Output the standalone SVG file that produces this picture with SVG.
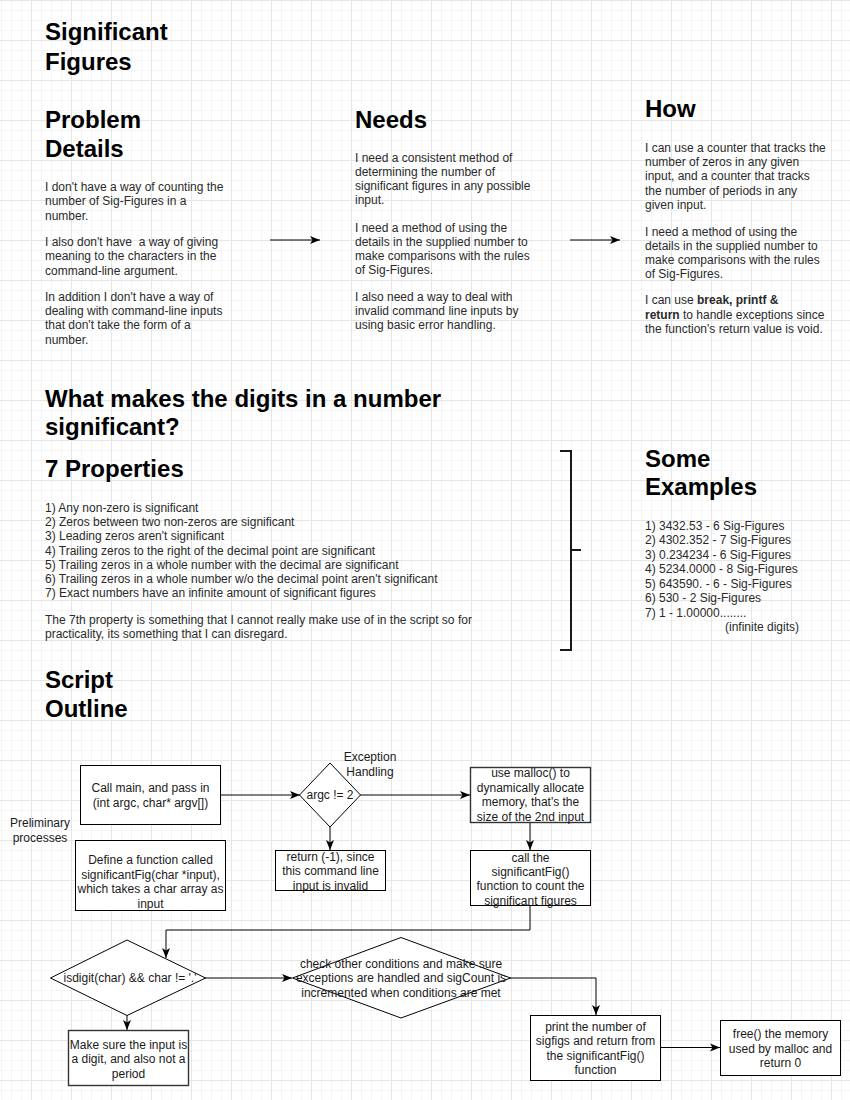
<svg xmlns="http://www.w3.org/2000/svg" width="850" height="1100" viewBox="0 0 850 1100">
<defs>
<pattern id="minor" patternUnits="userSpaceOnUse" x="1" y="0" width="10" height="10">
<path d="M0.5,0 V10 M0,0.5 H10" stroke="#f5f5f5" stroke-width="1" fill="none"/>
</pattern>
<pattern id="major" patternUnits="userSpaceOnUse" x="31" y="0" width="40" height="40">
<path d="M0.5,0 V40 M0,0.5 H40" stroke="#e6e6e6" stroke-width="1" fill="none"/>
</pattern>
<marker id="arr" markerUnits="userSpaceOnUse" markerWidth="12" markerHeight="12" refX="10" refY="5" orient="auto">
<path d="M0,1 L10,5 L0,9 L2.5,5 Z" fill="#000"/>
</marker>
<style>
.h{font-family:"Liberation Sans",Arial,sans-serif;font-size:24px;font-weight:bold;fill:#000}
.b{font-family:"Liberation Sans",Arial,sans-serif;font-size:12px;fill:#2a2a2a}
.t{font-family:"Liberation Sans",Arial,sans-serif;font-size:12px;fill:#1a1a1a;text-anchor:middle}
.box{fill:#fff;stroke:#000;stroke-width:1}
.box2{fill:#fff;stroke:#333;stroke-width:1.4}
.c{fill:none;stroke:#000;stroke-width:1}
</style>
</defs>
<rect width="850" height="1100" fill="#fff"/>
<rect width="850" height="1100" fill="url(#minor)"/>
<rect width="850" height="1100" fill="url(#major)"/>

<g id="headings">
<text class="h" x="45" y="40">Significant</text>
<text class="h" x="45" y="70">Figures</text>
<text class="h" x="45" y="128">Problem</text>
<text class="h" x="45" y="157">Details</text>
<text class="h" x="355" y="128">Needs</text>
<text class="h" x="645" y="117">How</text>
<text class="h" x="45" y="407">What makes the digits in a number</text>
<text class="h" x="45" y="435">significant?</text>
<text class="h" x="45" y="477">7 Properties</text>
<text class="h" x="645" y="467">Some</text>
<text class="h" x="645" y="495">Examples</text>
<text class="h" x="45" y="688">Script</text>
<text class="h" x="45" y="717">Outline</text>
</g>

<g id="problem-text">
<text class="b" x="45" y="191">I don't have a way of counting the<tspan x="45" dy="14.4">number of Sig-Figures in a</tspan><tspan x="45" dy="14.4">number.</tspan></text>
<text class="b" x="45" y="246" xml:space="preserve">I also don't have  a way of giving<tspan x="45" dy="14.4">meaning to the characters in the</tspan><tspan x="45" dy="14.4">command-line argument.</tspan></text>
<text class="b" x="45" y="300.5">In addition I don't have a way of<tspan x="45" dy="14.4">dealing with command-line inputs</tspan><tspan x="45" dy="14.4">that don't take the form of a</tspan><tspan x="45" dy="14.4">number.</tspan></text>
</g>

<g id="needs-text">
<text class="b" x="355" y="161.7">I need a consistent method of<tspan x="355" dy="14.2">determining the number of</tspan><tspan x="355" dy="14.2">significant figures in any possible</tspan><tspan x="355" dy="14.2">input.</tspan></text>
<text class="b" x="355" y="231.7">I need a method of using the<tspan x="355" dy="14.2">details in the supplied number to</tspan><tspan x="355" dy="14.2">make comparisons with the rules</tspan><tspan x="355" dy="14.2">of Sig-Figures.</tspan></text>
<text class="b" x="355" y="300.7">I also need a way to deal with<tspan x="355" dy="14.3">invalid command line inputs by</tspan><tspan x="355" dy="14.3">using basic error handling.</tspan></text>
</g>

<g id="how-text">
<text class="b" x="645" y="151.7">I can use a counter that tracks the<tspan x="645" dy="14.3">number of zeros in any given</tspan><tspan x="645" dy="14.3">input, and a counter that tracks</tspan><tspan x="645" dy="14.3">the number of periods in any</tspan><tspan x="645" dy="14.3">given input.</tspan></text>
<text class="b" x="645" y="235.7">I need a method of using the<tspan x="645" dy="14.2">details in the supplied number to</tspan><tspan x="645" dy="14.2">make comparisons with the rules</tspan><tspan x="645" dy="14.2">of Sig-Figures.</tspan></text>
<text class="b" x="645" y="304.3">I can use <tspan font-weight="bold">break, printf &amp;</tspan><tspan x="645" dy="14.5" font-weight="bold">return</tspan> to handle exceptions since<tspan x="645" dy="14.5">the function's return value is void.</tspan></text>
</g>

<g id="properties-text">
<text class="b" x="45" y="511.7">1) Any non-zero is significant<tspan x="45" dy="14.27">2) Zeros between two non-zeros are significant</tspan><tspan x="45" dy="14.27">3) Leading zeros aren't significant</tspan><tspan x="45" dy="14.27">4) Trailing zeros to the right of the decimal point are significant</tspan><tspan x="45" dy="14.27">5) Trailing zeros in a whole number with the decimal are significant</tspan><tspan x="45" dy="14.27">6) Trailing zeros in a whole number w/o the decimal point aren't significant</tspan><tspan x="45" dy="14.27">7) Exact numbers have an infinite amount of significant figures</tspan></text>
<text class="b" x="45" y="624">The 7th property is something that I cannot really make use of in the script so for<tspan x="45" dy="14.3">practicality, its something that I can disregard.</tspan></text>
</g>

<g id="examples-text">
<text class="b" x="645" y="530">1) 3432.53 - 6 Sig-Figures<tspan x="645" dy="14.45">2) 4302.352 - 7 Sig-Figures</tspan><tspan x="645" dy="14.45">3) 0.234234 - 6 Sig-Figures</tspan><tspan x="645" dy="14.45">4) 5234.0000 - 8 Sig-Figures</tspan><tspan x="645" dy="14.45">5) 643590. - 6 - Sig-Figures</tspan><tspan x="645" dy="14.45">6) 530 - 2 Sig-Figures</tspan><tspan x="645" dy="14.45">7) 1 - 1.00000........</tspan></text>
<text class="b" x="725" y="630.7">(infinite digits)</text>
</g>

<g id="bracket">
<path d="M560,451 H571 V650 H560 M571,550 H581" fill="none" stroke="#1a1a1a" stroke-width="2"/>
</g>

<g id="connectors">
<path class="c" d="M270,240 H320" marker-end="url(#arr)"/>
<path class="c" d="M570,240 H620" marker-end="url(#arr)"/>
<path class="c" d="M220,795 H300" marker-end="url(#arr)"/>
<path class="c" d="M330,825 V850" marker-end="url(#arr)"/>
<path class="c" d="M360,795 H470" marker-end="url(#arr)"/>
<path class="c" d="M530,823 V850" marker-end="url(#arr)"/>
<path class="c" d="M530,905 V930 H166 V958" marker-end="url(#arr)"/>
<path class="c" d="M127,1015 V1030" marker-end="url(#arr)"/>
<path class="c" d="M205,978 H292" marker-end="url(#arr)"/>
<path class="c" d="M510,978 H596 V1015" marker-end="url(#arr)"/>
<path class="c" d="M660,1047.5 H720" marker-end="url(#arr)"/>
</g>

<g id="preliminary-label">
<text class="t" x="40" y="827">Preliminary<tspan x="40" dy="15">processes</tspan></text>
</g>

<g id="node-call-main">
<rect class="box" x="80.5" y="765.5" width="140" height="59"/>
<text class="t" x="150.5" y="792">Call main, and pass in<tspan x="150.5" dy="15">(int argc, char* argv[])</tspan></text>
</g>

<g id="node-define">
<rect class="box" x="75.5" y="840.5" width="150" height="70"/>
<text class="t" x="150.5" y="864">Define a function called<tspan x="150.5" dy="14.5">significantFig(char *input),</tspan><tspan x="150.5" dy="14.5">which takes a char array as</tspan><tspan x="150.5" dy="14.5">input</tspan></text>
</g>

<g id="node-exception-label">
<text class="t" x="370" y="761">Exception<tspan x="370" dy="15">Handling</tspan></text>
</g>

<g id="node-argc">
<path class="box" d="M330,763 L360.5,795 L330,827 L299.5,795 Z"/>
<text class="t" x="330" y="799">argc != 2</text>
</g>

<g id="node-return">
<rect class="box" x="275.5" y="850.5" width="110" height="40"/>
<text class="t" x="330.5" y="860.5">return (-1), since<tspan x="330.5" dy="14.5">this command line</tspan><tspan x="330.5" dy="14.5">input is invalid</tspan></text>
</g>

<g id="node-malloc">
<rect class="box2" x="470.5" y="767.5" width="120" height="55"/>
<text class="t" x="530.5" y="777">use malloc() to<tspan x="530.5" dy="14.5">dynamically allocate</tspan><tspan x="530.5" dy="14.5">memory, that's the</tspan><tspan x="530.5" dy="14.5">size of the 2nd input</tspan></text>
</g>

<g id="node-call-sigfig">
<rect class="box" x="470.5" y="850.5" width="120" height="55"/>
<text class="t" x="530.5" y="861.5">call the<tspan x="530.5" dy="14.4">significantFig()</tspan><tspan x="530.5" dy="14.4">function to count the</tspan><tspan x="530.5" dy="14.4">significant figures</tspan></text>
</g>

<g id="node-isdigit">
<path class="box" d="M127,940 L205.5,978 L127,1015.5 L50.5,978 Z"/>
<text class="t" x="130" y="982">isdigit(char) &amp;&amp; char != '.'</text>
</g>

<g id="node-make-sure">
<rect class="box2" x="68.5" y="1030.5" width="120" height="55"/>
<text class="t" x="128.5" y="1049">Make sure the input is<tspan x="128.5" dy="14.4">a digit, and also not a</tspan><tspan x="128.5" dy="14.4">period</tspan></text>
</g>

<g id="node-check">
<path class="box" d="M401,937.5 L510.5,978 L401,1018 L292.5,978 Z"/>
<text class="t" x="401" y="967.5">check other conditions and make sure<tspan x="401" dy="14.5">exceptions are handled and sigCount is</tspan><tspan x="401" dy="14.5">incremented when conditions are met</tspan></text>
</g>

<g id="node-print">
<rect class="box" x="530.5" y="1015.5" width="130" height="65"/>
<text class="t" x="595.5" y="1030.5">print the number of<tspan x="595.5" dy="14.5">sigfigs and return from</tspan><tspan x="595.5" dy="14.5">the significantFig()</tspan><tspan x="595.5" dy="14.5">function</tspan></text>
</g>

<g id="node-free">
<rect class="box" x="720.5" y="1020.5" width="120" height="55"/>
<text class="t" x="780.5" y="1038">free() the memory<tspan x="780.5" dy="14.5">used by malloc and</tspan><tspan x="780.5" dy="14.5">return 0</tspan></text>
</g>
</svg>
